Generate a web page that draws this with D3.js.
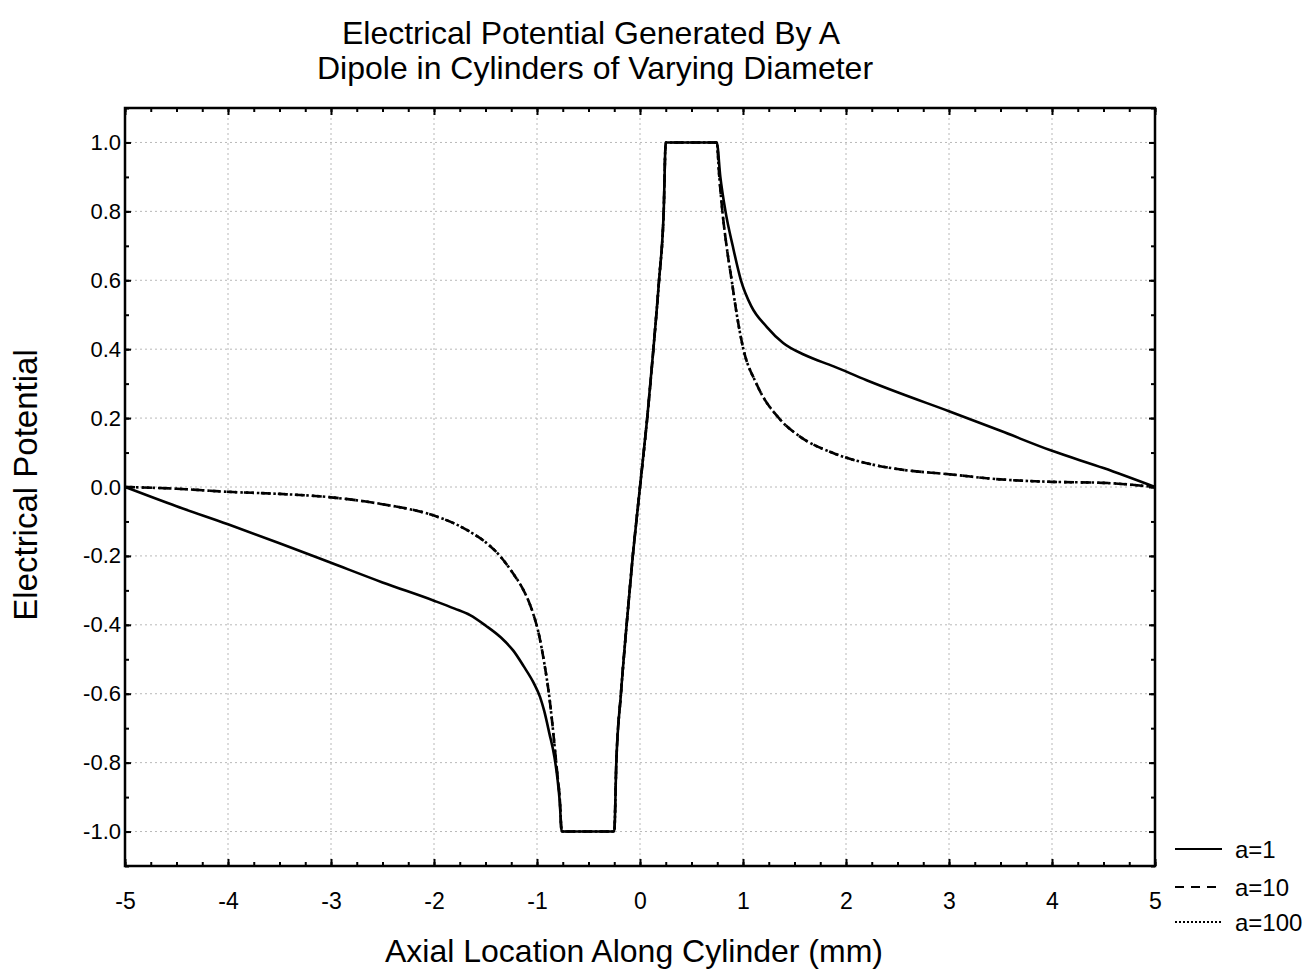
<!DOCTYPE html>
<html><head><meta charset="utf-8">
<script src="https://cdn.jsdelivr.net/npm/d3@7"></script>
<style>body{margin:0;background:#fff;} svg{display:block;font-family:"Liberation Sans",Arial,sans-serif;}</style>
</head><body>
<svg id="chart" width="1310" height="972"></svg>
<script>
// ---- data ----
const xTicks = [-5,-4,-3,-2,-1,0,1,2,3,4,5];
const yTicks = [-1.0,-0.8,-0.6,-0.4,-0.2,0.0,0.2,0.4,0.6,0.8,1.0];
const seriesNames = ["a=1","a=10","a=100"];

const xA1 = [-5,-4.5,-4,-3.5,-3,-2.5,-2,-1.8,-1.65,-1.5,-1.35,-1.23,-1.13,-1.03,-0.97,-0.93,-0.88,-0.83,-0.8,-0.78,-0.76,
  -0.25,-0.23,-0.185,-0.13,-0.07,0,0.07,0.13,0.185,0.23,0.25,0.745,0.78,0.83,0.9,0.98,1.08,1.23,1.39,1.6,1.88,2.2,2.5,3,3.5,4,4.5,5];
const yA1 = [0,-0.056,-0.108,-0.163,-0.22,-0.277,-0.33,-0.353,-0.372,-0.402,-0.437,-0.475,-0.52,-0.57,-0.61,-0.65,-0.715,-0.785,-0.85,-0.91,-1.0,
  -1.0,-0.8,-0.6,-0.4,-0.2,0,0.2,0.4,0.6,0.8,1.0,1.0,0.9,0.8,0.7,0.6,0.525,0.465,0.418,0.383,0.35,0.31,0.275,0.22,0.163,0.105,0.055,0];

const xA10 = [-5,-4.5,-4,-3.5,-3,-2.5,-2,-1.81,-1.65,-1.5,-1.36,-1.23,-1.13,-1.04,-0.98,-0.93,-0.88,-0.85,-0.82,-0.8,-0.78,-0.76,
  -0.25,-0.23,-0.185,-0.13,-0.07,0,0.07,0.13,0.185,0.23,0.25,0.745,0.77,0.8,0.84,0.89,0.94,1.0,1.13,1.36,1.55,1.88,2.2,2.5,3,3.5,4,4.5,5];
const yA10 = [0,-0.005,-0.014,-0.02,-0.03,-0.05,-0.083,-0.105,-0.13,-0.16,-0.2,-0.252,-0.3,-0.365,-0.43,-0.51,-0.61,-0.69,-0.78,-0.84,-0.9,-1.0,
  -1.0,-0.8,-0.6,-0.4,-0.2,0,0.2,0.4,0.6,0.8,1.0,1.0,0.9,0.8,0.7,0.6,0.5,0.405,0.3,0.196,0.147,0.098,0.069,0.052,0.037,0.022,0.015,0.012,0];
const xA100 = [-5,-4.5,-4,-3.5,-3,-2.5,-2,-1.81,-1.65,-1.5,-1.36,-1.23,-1.13,-1.04,-0.98,-0.93,-0.88,-0.85,-0.82,-0.8,-0.78,-0.76,
  -0.25,-0.23,-0.185,-0.13,-0.07,0,0.07,0.13,0.185,0.23,0.25,0.745,0.77,0.8,0.84,0.89,0.94,1.0,1.13,1.36,1.55,1.88,2.2,2.5,3,3.5,4,4.5,5];
const yA100 = [0,-0.005,-0.014,-0.02,-0.03,-0.05,-0.083,-0.105,-0.13,-0.16,-0.2,-0.252,-0.3,-0.365,-0.43,-0.51,-0.61,-0.69,-0.78,-0.84,-0.9,-1.0,
  -1.0,-0.8,-0.6,-0.4,-0.2,0,0.2,0.4,0.6,0.8,1.0,1.0,0.9,0.8,0.7,0.6,0.5,0.405,0.3,0.196,0.147,0.098,0.069,0.052,0.037,0.022,0.015,0.012,0];

// ---- layout ----
const svg = d3.select("#chart");
const L = 125, R = 1155, T = 108, B = 866;
const x = d3.scaleLinear().domain([-5,5]).range([L,R]);
const y = d3.scaleLinear().domain([-1.1,1.1]).range([B,T]);
const FONT = "Liberation Sans, Arial, sans-serif";

// grid
const grid = svg.append("g");
grid.selectAll(".gx").data(xTicks.slice(1,-1)).enter().append("line")
  .attr("x1",d=>x(d)).attr("x2",d=>x(d)).attr("y1",T).attr("y2",B)
  .attr("stroke","#b8b8b8").attr("stroke-width",1).attr("stroke-dasharray","2,3");
grid.selectAll(".gy").data(yTicks).enter().append("line")
  .attr("x1",L).attr("x2",R).attr("y1",d=>y(d)).attr("y2",d=>y(d))
  .attr("stroke","#b8b8b8").attr("stroke-width",1).attr("stroke-dasharray","2,3");

// axes (inward ticks)
const fmtY = d => d3.format(".1f")(d).replace("\u2212","-");
const fmtX = d => d3.format("d")(d).replace("\u2212","-");
const xMinor = d3.range(-5,5.001,0.25);
const yMinor = d3.range(-1.1,1.1001,0.1);
function axisStyle(g){ g.select(".domain").remove(); g.selectAll("line").attr("stroke","#000").attr("stroke-width",2); }

svg.append("g").attr("transform",`translate(0,${B})`)
  .call(d3.axisBottom(x).tickValues(xMinor).tickSize(-4).tickFormat(""))
  .call(axisStyle);
svg.append("g").attr("transform",`translate(0,${T})`)
  .call(d3.axisTop(x).tickValues(xMinor).tickSize(-4).tickFormat(""))
  .call(axisStyle);
svg.append("g").attr("transform",`translate(0,${B})`)
  .call(d3.axisBottom(x).tickValues(xTicks).tickSize(-7).tickPadding(27).tickFormat(fmtX))
  .call(axisStyle)
  .call(g=>g.selectAll("text").attr("font-size",23).attr("fill","#000").attr("font-family",FONT));
svg.append("g").attr("transform",`translate(0,${T})`)
  .call(d3.axisTop(x).tickValues(xTicks).tickSize(-7).tickFormat(""))
  .call(axisStyle);
svg.append("g").attr("transform",`translate(${L},0)`)
  .call(d3.axisLeft(y).tickValues(yMinor).tickSize(-4).tickFormat(""))
  .call(axisStyle);
svg.append("g").attr("transform",`translate(${L},0)`)
  .call(d3.axisLeft(y).tickValues(yTicks).tickSize(-6).tickPadding(4).tickFormat(fmtY))
  .call(axisStyle)
  .call(g=>g.selectAll("text").attr("font-size",22).attr("fill","#000").attr("font-family",FONT));
svg.append("g").attr("transform",`translate(${R},0)`)
  .call(d3.axisRight(y).tickValues(yMinor).tickSize(-4).tickFormat(""))
  .call(axisStyle);
svg.append("g").attr("transform",`translate(${R},0)`)
  .call(d3.axisRight(y).tickValues(yTicks).tickSize(-6).tickFormat(""))
  .call(axisStyle);

// frame
svg.append("rect").attr("x",L).attr("y",T).attr("width",R-L).attr("height",B-T)
  .attr("fill","none").attr("stroke","#000").attr("stroke-width",2.5);

// lines
const line = d3.line().curve(d3.curveMonotoneX).x(d=>x(d[0])).y(d=>y(d[1]));
const series = [
  {name:seriesNames[0], xs:xA1, ys:yA1, dash:null},
  {name:seriesNames[1], xs:xA10, ys:yA10, dash:"10,7"},
  {name:seriesNames[2], xs:xA100, ys:yA100, dash:"2.5,3"}
];
const plot = svg.append("g");
series.slice().reverse().forEach(s=>{
  plot.append("path").datum(s.xs.map((v,i)=>[v,s.ys[i]]))
    .attr("d",line).attr("fill","none").attr("stroke","#000").attr("stroke-width",2.6)
    .attr("stroke-dasharray",s.dash);
});

// legend
const lg = svg.append("g");
const legY = [849, 887, 922];
series.forEach((s,i)=>{
  lg.append("line").attr("x1",1175).attr("x2",1222).attr("y1",legY[i]).attr("y2",legY[i])
    .attr("stroke","#000").attr("stroke-width",s.dash==="2.5,3"?1.8:2.2).attr("stroke-dasharray",s.dash==="10,7"?"9,7":(s.dash?"2,2":null));
  lg.append("text").attr("x",1235).attr("y",legY[i]+9).attr("font-size",24).text(s.name);
});

// titles
svg.append("text").attr("x",591).attr("y",44).attr("text-anchor","middle").attr("font-size",32).text("Electrical Potential Generated By A");
svg.append("text").attr("x",595).attr("y",79).attr("text-anchor","middle").attr("font-size",32).text("Dipole in Cylinders of Varying Diameter");
svg.append("text").attr("x",634).attr("y",962).attr("text-anchor","middle").attr("font-size",32).text("Axial Location Along Cylinder (mm)");
svg.append("text").attr("transform","translate(37,485) rotate(-90)").attr("text-anchor","middle").attr("font-size",33).text("Electrical Potential");
</script>
</body></html>
